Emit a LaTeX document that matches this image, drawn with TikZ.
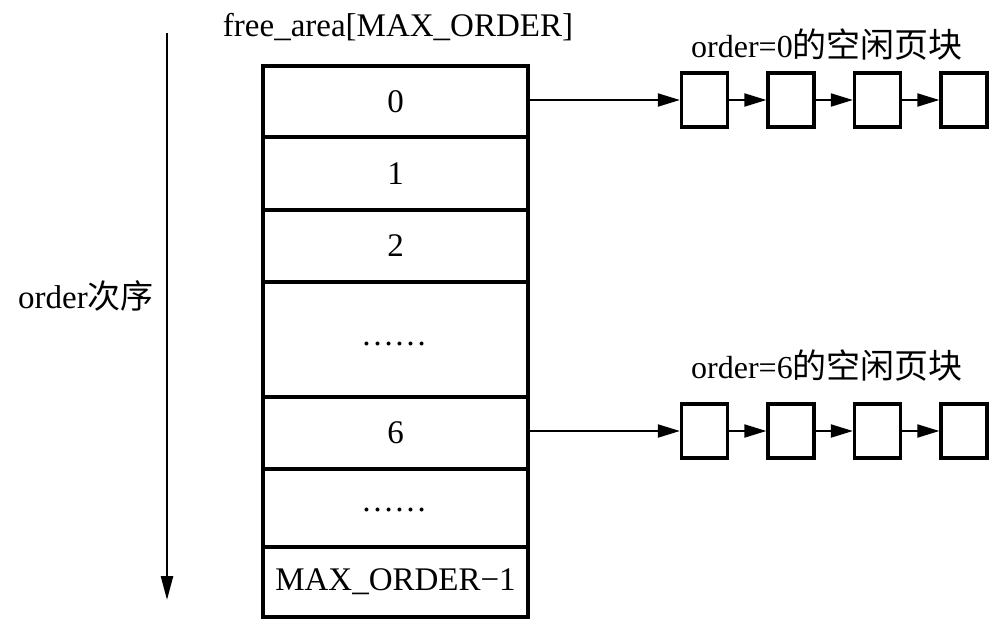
\documentclass[tikz,border=0pt]{standalone}
\usepackage{fontspec}
\setmainfont{Liberation Serif}
\newfontfamily\cjk{Noto Sans CJK SC}
\usetikzlibrary{arrows.meta}
\begin{document}
\begin{tikzpicture}[x=1pt,y=-1pt,
  every node/.style={font=\fontsize{33}{38}\selectfont},
  rowbox/.style={draw,line width=3.3pt,minimum width=265pt,inner sep=0pt},
  blk/.style={draw,line width=3.3pt,minimum width=46pt,minimum height=54pt,inner sep=0pt},
  txt/.style={anchor=base,inner sep=0pt},
  chainlab/.style={txt,font=\fontsize{32}{38}\selectfont},
  arr/.style={line width=2pt,-{Triangle[length=22pt,width=13pt]}}]
\useasboundingbox (0,0) rectangle (998,634);
% column
\node[rowbox,minimum height=71pt] (r0) at (395.5,101.5) {0};
\node[rowbox,minimum height=73pt] (r1) at (395.5,173.5) {1};
\node[rowbox,minimum height=72pt] (r2) at (395.5,246) {2};
\node[rowbox,minimum height=115pt] (r3) at (395.5,339.5) {};
\node[rowbox,minimum height=72pt] (r4) at (395.5,433) {6};
\node[rowbox,minimum height=78pt] (r5) at (395.5,508) {};
\node[rowbox,minimum height=70pt] (r6) at (395.5,582) {MAX\_ORDER−1};
\node[txt] (d3) at (394,345) {……};
\node[txt] (d5) at (394,511) {……};
% title
\node[txt] (title) at (398,37) {free\_area[MAX\_ORDER]};
% left arrow
\coordinate (vtop) at (167,33);
\coordinate (vbot) at (167,600);
\draw[line width=2.5pt,-{Triangle[length=24pt,width=12pt]}] (vtop) -- (vbot);
\node[txt] (olab) at (86,308) {order{\fontsize{33}{38}\selectfont\cjk 次序}};
% chain 0
\node[chainlab] (lab0) at (827,57) {order=0{\fontsize{34}{38}\selectfont\cjk 的空闲页块}};
\node[blk] (a1) at (704.5,100) {};
\node[blk] (a2) at (791,100) {};
\node[blk] (a3) at (877.5,100) {};
\node[blk] (a4) at (964,100) {};
\draw[arr] (r0.east |- a1.west) -- (a1.west);
\draw[arr] (a1.east) -- (a2.west);
\draw[arr] (a2.east) -- (a3.west);
\draw[arr] (a3.east) -- (a4.west);
% chain 6
\node[chainlab] (lab6) at (827,378) {order=6{\fontsize{34}{38}\selectfont\cjk 的空闲页块}};
\node[blk] (c1) at (704.5,431) {};
\node[blk] (c2) at (791,431) {};
\node[blk] (c3) at (877.5,431) {};
\node[blk] (c4) at (964,431) {};
\draw[arr] (r4.east |- c1.west) -- (c1.west);
\draw[arr] (c1.east) -- (c2.west);
\draw[arr] (c2.east) -- (c3.west);
\draw[arr] (c3.east) -- (c4.west);
\end{tikzpicture}
\end{document}
